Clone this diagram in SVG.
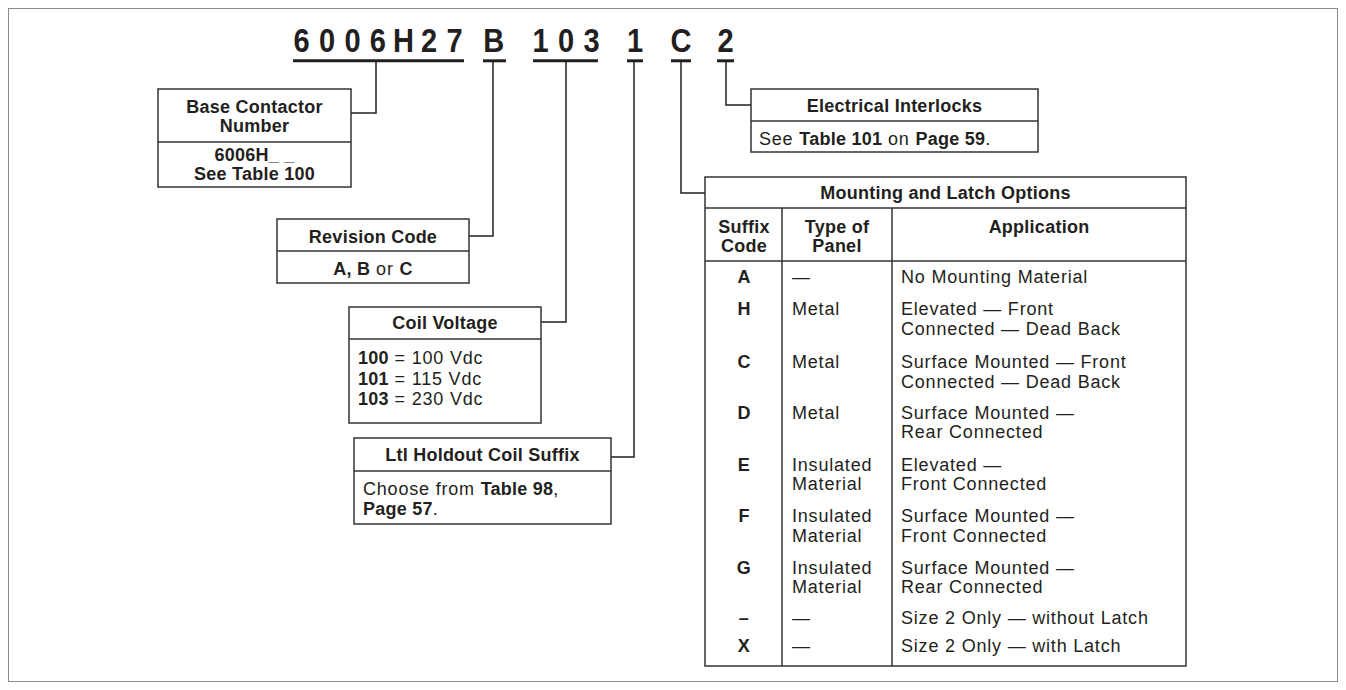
<svg xmlns="http://www.w3.org/2000/svg" width="1346" height="690" viewBox="0 0 1346 690">
<style>
text{font-family:"Liberation Sans",Arial,sans-serif;fill:#231f20;font-size:18px;letter-spacing:0.8px}
.b{font-weight:bold;letter-spacing:0.25px}
.m{text-anchor:middle}
.code{font-weight:bold;font-size:33px;text-anchor:middle;letter-spacing:0}
.box{fill:#fff;stroke:#333;stroke-width:1.5}
.ln{stroke:#333;stroke-width:1.5;fill:none}
.ul{stroke:#231f20;stroke-width:3}
.con{stroke:#231f20;stroke-width:1.5;fill:none}
</style>
<rect x="8.5" y="8.5" width="1329" height="673" fill="#fff" stroke="#8a8a8a" stroke-width="1"/>

<g id="code">
<g transform="scale(0.88,1)">
<text class="code" x="342.6 371.6 400.6 429.5 458.5 487.5 516.5" y="52">6006H27</text>
<text class="code" x="561" y="52">B</text>
<text class="code" x="614.2 643.2 672.2" y="52">103</text>
<text class="code" x="721.6" y="52">1</text>
<text class="code" x="773.9" y="52">C</text>
<text class="code" x="824.4" y="52">2</text>
</g>
<line class="ul" x1="293" y1="60.8" x2="464" y2="60.8"/>
<line class="ul" x1="483" y1="60.8" x2="506" y2="60.8"/>
<line class="ul" x1="533" y1="60.8" x2="598" y2="60.8"/>
<line class="ul" x1="627" y1="60.8" x2="643" y2="60.8"/>
<line class="ul" x1="671" y1="60.8" x2="691" y2="60.8"/>
<line class="ul" x1="717" y1="60.8" x2="734" y2="60.8"/>
</g>

<g id="connectors">
<polyline class="con" points="376,62 376,113 351,113"/>
<polyline class="con" points="493,62 493,236 469,236"/>
<polyline class="con" points="566,62 566,322 541,322"/>
<polyline class="con" points="634,62 634,457 611,457"/>
<polyline class="con" points="681,62 681,193 705,193"/>
<polyline class="con" points="726,62 726,105 751,105"/>
</g>

<g id="base-contactor">
<rect class="box" x="158" y="89" width="193" height="98"/>
<line class="ln" x1="158" y1="142" x2="351" y2="142"/>
<text class="b m" x="254.5" y="113">Base Contactor</text>
<text class="b m" x="254.5" y="132">Number</text>
<text class="b m" x="254.5" y="161">6006H_ _</text>
<text class="b m" x="254.5" y="180">See Table 100</text>
</g>

<g id="revision-code">
<rect class="box" x="277" y="219" width="192" height="64"/>
<line class="ln" x1="277" y1="251" x2="469" y2="251"/>
<text class="b m" x="373" y="243">Revision Code</text>
<text class="m" x="373" y="275"><tspan class="b">A, B</tspan> or <tspan class="b">C</tspan></text>
</g>

<g id="coil-voltage">
<rect class="box" x="349" y="307" width="192" height="116"/>
<line class="ln" x1="349" y1="339" x2="541" y2="339"/>
<text class="b m" x="445" y="329">Coil Voltage</text>
<text x="358" y="364"><tspan class="b">100</tspan> = 100 Vdc</text>
<text x="358" y="385"><tspan class="b">101</tspan> = 115 Vdc</text>
<text x="358" y="405"><tspan class="b">103</tspan> = 230 Vdc</text>
</g>

<g id="ltl-holdout">
<rect class="box" x="354" y="438" width="257" height="86"/>
<line class="ln" x1="354" y1="471" x2="611" y2="471"/>
<text class="b m" x="482.5" y="461">Ltl Holdout Coil Suffix</text>
<text x="363" y="495">Choose from <tspan class="b">Table 98</tspan>,</text>
<text x="363" y="515"><tspan class="b">Page 57</tspan>.</text>
</g>

<g id="electrical-interlocks">
<rect class="box" x="751" y="89" width="287" height="63"/>
<line class="ln" x1="751" y1="121" x2="1038" y2="121"/>
<text class="b m" x="894.5" y="112">Electrical Interlocks</text>
<text x="759" y="145">See <tspan class="b">Table 101</tspan> on <tspan class="b">Page 59</tspan>.</text>
</g>

<g id="mounting-latch-options">
<rect class="box" x="705" y="177" width="481" height="489"/>
<line class="ln" x1="705" y1="208" x2="1186" y2="208"/>
<line class="ln" x1="705" y1="261" x2="1186" y2="261"/>
<line class="ln" x1="782" y1="208" x2="782" y2="666"/>
<line class="ln" x1="892" y1="208" x2="892" y2="666"/>
<text class="b m" x="945.5" y="199">Mounting and Latch Options</text>
<text class="b m" x="744" y="233">Suffix</text>
<text class="b m" x="744" y="252">Code</text>
<text class="b m" x="837" y="233">Type of</text>
<text class="b m" x="837" y="252">Panel</text>
<text class="b m" x="1039" y="233">Application</text>

<text class="b m" x="744" y="283">A</text>
<text x="792" y="283">—</text>
<text x="901" y="283">No Mounting Material</text>

<text class="b m" x="744" y="315">H</text>
<text x="792" y="315">Metal</text>
<text x="901" y="315">Elevated — Front</text>
<text x="901" y="335">Connected — Dead Back</text>

<text class="b m" x="744" y="368">C</text>
<text x="792" y="368">Metal</text>
<text x="901" y="368">Surface Mounted — Front</text>
<text x="901" y="388">Connected — Dead Back</text>

<text class="b m" x="744" y="419">D</text>
<text x="792" y="419">Metal</text>
<text x="901" y="419">Surface Mounted —</text>
<text x="901" y="438">Rear Connected</text>

<text class="b m" x="744" y="471">E</text>
<text x="792" y="471">Insulated</text>
<text x="792" y="490">Material</text>
<text x="901" y="471">Elevated —</text>
<text x="901" y="490">Front Connected</text>

<text class="b m" x="744" y="522">F</text>
<text x="792" y="522">Insulated</text>
<text x="792" y="542">Material</text>
<text x="901" y="522">Surface Mounted —</text>
<text x="901" y="542">Front Connected</text>

<text class="b m" x="744" y="574">G</text>
<text x="792" y="574">Insulated</text>
<text x="792" y="593">Material</text>
<text x="901" y="574">Surface Mounted —</text>
<text x="901" y="593">Rear Connected</text>

<text class="b m" x="744" y="624">–</text>
<text x="792" y="624">—</text>
<text x="901" y="624">Size 2 Only — without Latch</text>

<text class="b m" x="744" y="652">X</text>
<text x="792" y="652">—</text>
<text x="901" y="652">Size 2 Only — with Latch</text>
</g>
</svg>
